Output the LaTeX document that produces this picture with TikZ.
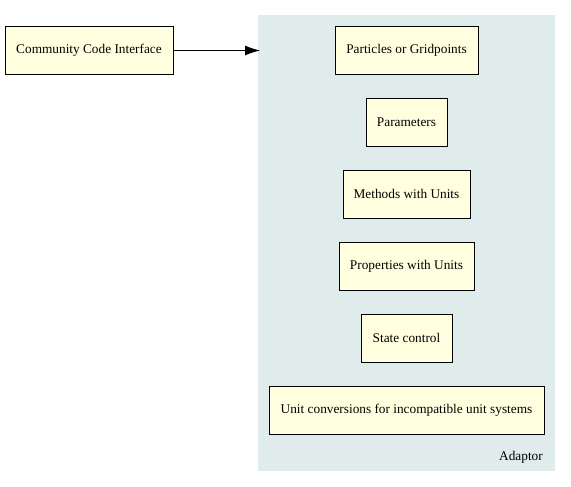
\documentclass[tikz,border=0pt]{standalone}
\usepackage{fontspec}
\setmainfont{Liberation Serif}
\usetikzlibrary{arrows.meta}
\definecolor{clusterbg}{RGB}{224,236,236}
\definecolor{boxfill}{RGB}{255,255,224}

\begin{document}
\begin{tikzpicture}[x=1pt,y=-1pt,
  box/.style={draw=black,fill=boxfill,line width=0.9pt,minimum height=48pt,inner sep=0pt,font=\fontsize{13.3}{15}\selectfont},
  lbl/.style={inner sep=0pt,font=\fontsize{13.3}{15}\selectfont}]

\useasboundingbox (0,0) rectangle (571,487);

% adaptor cluster
\fill[clusterbg] (258,15) rectangle (555,471);
\node[lbl,anchor=east] (adaptor) at (543,457.5) {Adaptor};

\node[box,minimum width=168pt] (cci) at (89,50.5) {Community Code Interface};
\coordinate (adin) at (260,50.5);
\draw[-{Latex[length=15pt,width=10pt]},line width=0.9pt] (cci) -- (adin);

\node[box,minimum width=143pt] (particles) at (406.5,50) {Particles or Gridpoints};
\node[box,minimum width=81pt] (params) at (406.5,122) {Parameters};
\node[box,minimum width=127pt] (methods) at (406.5,194) {Methods with Units};
\node[box,minimum width=135pt] (props) at (406.5,266) {Properties with Units};
\node[box,minimum width=91pt] (state) at (406.5,338) {State control};
\node[box,minimum width=275pt] (units) at (406.5,410) {Unit conversions for incompatible unit systems};

\end{tikzpicture}
\end{document}
